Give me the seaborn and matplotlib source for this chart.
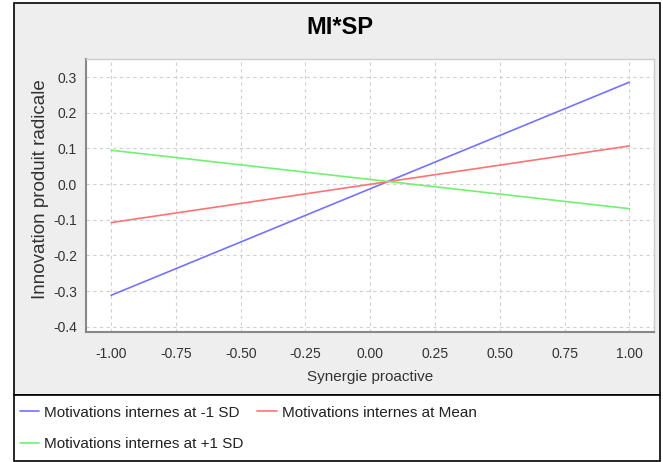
import pandas as pd
import matplotlib.pyplot as plt
import seaborn as sns
from matplotlib import font_manager
from matplotlib.patches import Rectangle

# Data
synergie = [-1.0, 1.0]
low_sd = [-0.312, 0.286]
mean_level = [-0.108, 0.107]
high_sd = [0.095, -0.069]

series_names = [
    "Motivations internes at -1 SD",
    "Motivations internes at Mean",
    "Motivations internes at +1 SD",
]
series_colors = ["#7373ff", "#ff7373", "#73f073"]
x_ticks = [-1.0, -0.75, -0.5, -0.25, 0.0, 0.25, 0.5, 0.75, 1.0]
y_ticks = [-0.4, -0.3, -0.2, -0.1, 0.0, 0.1, 0.2, 0.3]

# Long table for seaborn
rows = []
for name, vals in zip(series_names, [low_sd, mean_level, high_sd]):
    for x, y in zip(synergie, vals):
        rows.append({"x": x, "y": y, "serie": name})
df = pd.DataFrame(rows)

sns.set_style("white")
installed = {f.name for f in font_manager.fontManager.ttflist}
narrow = "Liberation Sans Narrow" if "Liberation Sans Narrow" in installed else "Liberation Sans"
plt.rcParams["font.family"] = [narrow, "DejaVu Sans"]

fig = plt.figure(figsize=(6.63, 4.62), dpi=100)
W, H = 663, 462

# gray chart panel and white legend box with black frames
fig.patches.append(Rectangle((14 / W, 1 - 395 / H), 646 / W, 392 / H,
                             transform=fig.transFigure, facecolor="#eeeeee",
                             edgecolor="black", linewidth=1.2, zorder=-2))
fig.patches.append(Rectangle((14 / W, 1 - 461 / H), 646 / W, 66 / H,
                             transform=fig.transFigure, facecolor="white",
                             edgecolor="black", linewidth=1.2, zorder=-2))

ax = fig.add_axes([86 / W, 1 - 332 / H, 568 / W, 273 / H])
ax.set_zorder(2)
ax.set_facecolor("white")

sns.lineplot(data=df, x="x", y="y", hue="serie", palette=series_colors,
             linewidth=1.2, ax=ax, legend=False)

ax.set_xlim(-1.097, 1.095)
ax.set_ylim(-0.415, 0.351)
ax.set_xticks(x_ticks)
ax.set_xticklabels([f"{t:.2f}" for t in x_ticks])
ax.set_yticks(y_ticks)
ax.set_yticklabels([f"{t:.1f}" for t in y_ticks])
ax.grid(True, color="#d0d0d0", linestyle=(0, (3, 3)), linewidth=0.8)
ax.set_axisbelow(True)
ax.tick_params(axis="both", labelsize=10, colors="#888888", labelcolor="#333333",
               length=3, width=1, direction="out")
ax.tick_params(axis="x", pad=8)

for side in ["left", "bottom"]:
    ax.spines[side].set_color("#888888")
    ax.spines[side].set_linewidth(1.5)
for side in ["top", "right"]:
    ax.spines[side].set_color("#cccccc")
    ax.spines[side].set_linewidth(1.0)

ax.set_xlabel("Synergie proactive", fontsize=11, color="#333333", labelpad=6)
ax.set_ylabel("Innovation produit radicale", fontsize=13.5, color="#333333")
ax.yaxis.set_label_coords(-0.066, 0.524)

fig.text(340 / W, 1 - 27 / H, "MI*SP", ha="center", va="center",
         fontsize=17, fontweight="bold", color="black")

# legend rows: -1 SD and Mean on top, +1 SD below
handles = [plt.Line2D([], [], color=c, linewidth=1.2) for c in series_colors]
order = [0, 2, 1]
fig.legend([handles[i] for i in order], [series_names[i] for i in order],
           ncol=2, loc="upper left", bbox_to_anchor=(15 / W, 1 - 401 / H),
           frameon=False, fontsize=11, handlelength=1.3, handletextpad=0.3,
           columnspacing=0.9, labelspacing=1.15, borderaxespad=0, borderpad=0.3,
           labelcolor="#222222")

fig.savefig("out.png", dpi=100)
